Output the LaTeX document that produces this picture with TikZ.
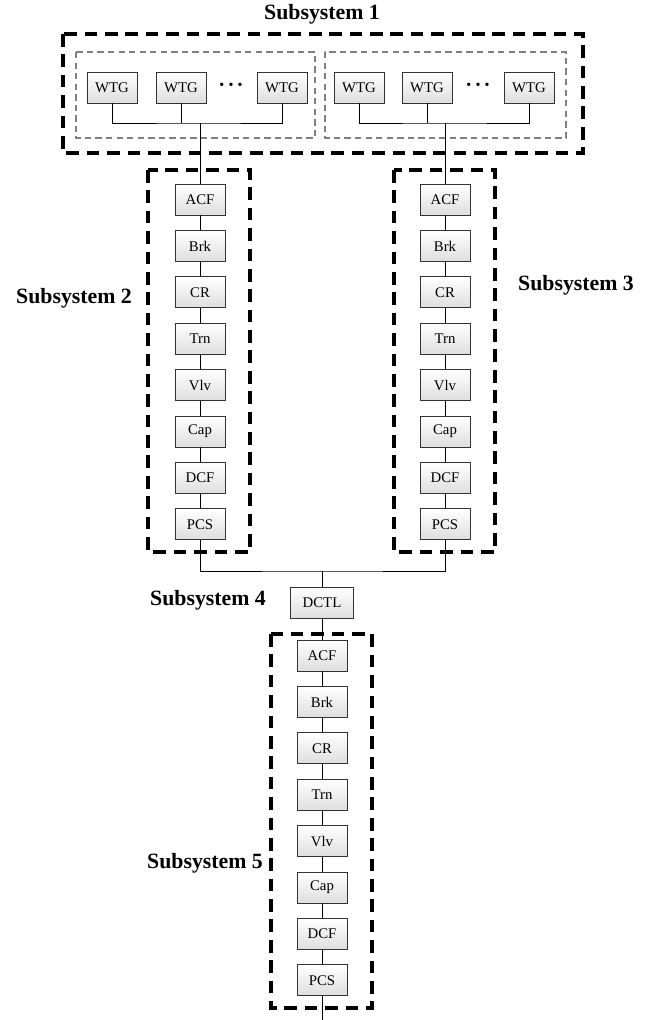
\documentclass[tikz,border=0pt]{standalone}
\usepackage{fontspec}
\setmainfont{Liberation Serif}

\tikzset{
    unit/.style={draw=black!80, line width=0.6pt, top color=white, bottom color=black!13,
        minimum width=35.5pt, minimum height=22pt, inner sep=1pt,
        font=\fontsize{10.5}{12}\selectfont},
    subbox/.style={line width=2.4pt, dash pattern=on 9pt off 5.5pt},
    grpbox/.style={draw=black!50, line width=1pt, dash pattern=on 4.5pt off 3pt},
    wire/.style={line width=0.6pt},
    title/.style={font=\fontsize{15.5}{18}\selectfont\bfseries},
    more/.style={font=\fontsize{10}{10}\selectfont, inner sep=0pt},
}

\begin{document}
\begin{tikzpicture}[x=0.025cm, y=-0.025cm]
    \useasboundingbox (0,0) rectangle (663,1020);

    % subsystem frames
    \draw[subbox] (63,34) rectangle (583,153);
    \draw[grpbox] (76,52) rectangle (315,138);
    \draw[grpbox] (325,52) rectangle (566,138);
    \draw[subbox] (148,170) rectangle (250,552);
    \draw[subbox] (394,170) rectangle (495,552);
    \draw[subbox] (271,634) rectangle (372,1008);

    \node[title] (t1) at (322,14) {Subsystem 1};
    \node[title] (t2) at (74,298) {Subsystem 2};
    \node[title] (t3) at (576,285) {Subsystem 3};
    \node[title] (t4) at (208,600) {Subsystem 4};
    \node[title] (t5) at (205,863) {Subsystem 5};

    % wind turbine groups
    \node[unit] (w1) at (112,87.5) {WTG};
    \node[unit] (w2) at (181,87.5) {WTG};
    \node[unit] (w3) at (282,87.5) {WTG};
    \node[unit] (w4) at (359,87.5) {WTG};
    \node[unit] (w5) at (427,87.5) {WTG};
    \node[unit] (w6) at (529,87.5) {WTG};
    \node[more] (e1) at (231,86) {\textbullet\hspace{3pt}\textbullet\hspace{3pt}\textbullet};
    \node[more] (e2) at (478,86) {\textbullet\hspace{3pt}\textbullet\hspace{3pt}\textbullet};

    % converter chains
    \foreach \t [count=\i] in {ACF,Brk,CR,Trn,Vlv,Cap,DCF,PCS} {
        \node[unit] (a\i) at (200,{199.5+46.4*(\i-1)}) {\t};
        \node[unit] (b\i) at (445,{199.5+46.4*(\i-1)}) {\t};
        \node[unit] (c\i) at (322,{655.5+46.4*(\i-1)}) {\t};
    }
    \node[unit, minimum width=44.8pt] (d) at (322,603) {DCTL};

    \coordinate (j1) at (200,123);
    \coordinate (j2) at (445,123);
    \coordinate (j3) at (322,571);
    \coordinate (out) at (322,1020);

    \draw[wire] (w1) |- (j1) -| (w3);
    \draw[wire] (w2) -- (w2 |- j1);
    \draw[wire] (w4) |- (j2) -| (w6);
    \draw[wire] (w5) -- (w5 |- j2);
    \draw[wire] (j1) -- (a1);
    \draw[wire] (j2) -- (b1);
    \foreach \i [evaluate=\i as \j using int(\i+1)] in {1,...,7} {
        \draw[wire] (a\i) -- (a\j);
        \draw[wire] (b\i) -- (b\j);
        \draw[wire] (c\i) -- (c\j);
    }
    \draw[wire] (a8) |- (j3) -| (b8);
    \draw[wire] (j3) -- (d);
    \draw[wire] (d) -- (c1);
    \draw[wire] (c8) -- (out);
\end{tikzpicture}
\end{document}
